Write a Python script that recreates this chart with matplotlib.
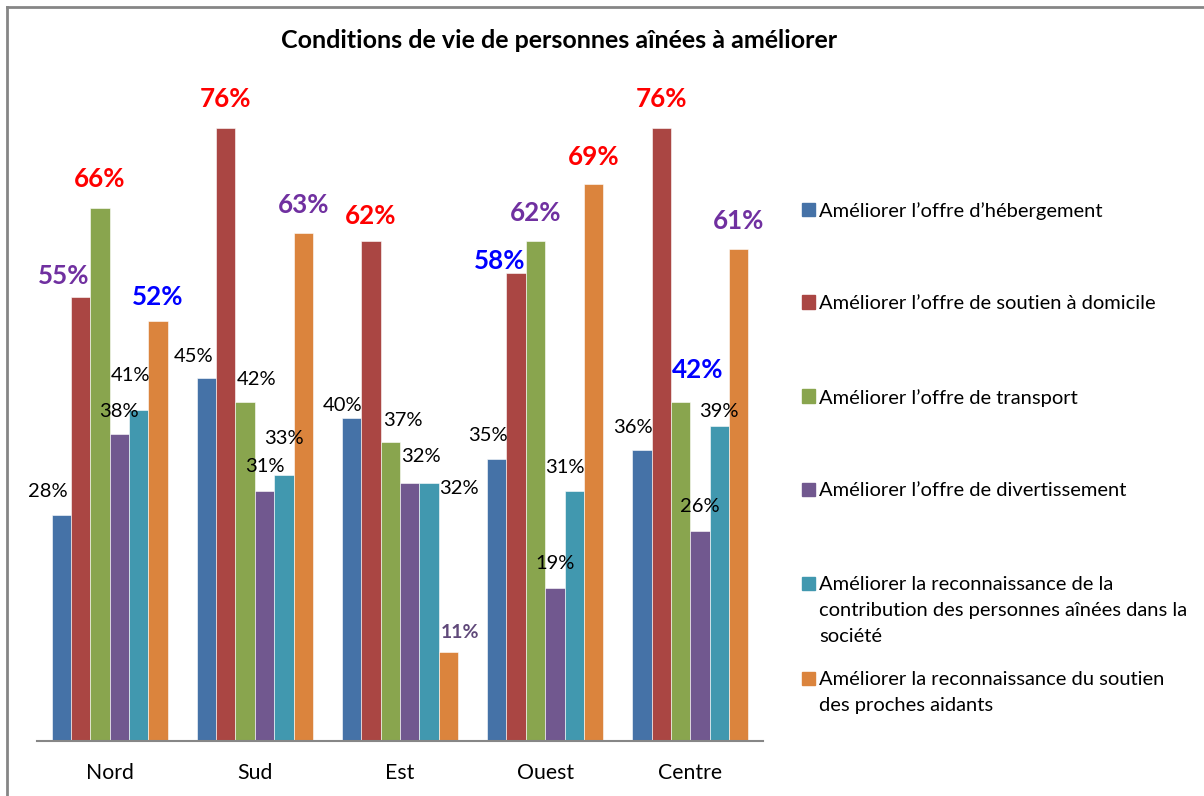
import numpy as np
import matplotlib.pyplot as plt
from matplotlib.lines import Line2D
from matplotlib.patches import Rectangle

plt.rcParams['font.family'] = ['Lato', 'DejaVu Sans']

regions = ['Nord', 'Sud', 'Est', 'Ouest', 'Centre']
series_names = [
    'Améliorer l’offre d’hébergement',
    'Améliorer l’offre de soutien à domicile',
    'Améliorer l’offre de transport',
    'Améliorer l’offre de divertissement',
    'Améliorer la reconnaissance de la\ncontribution des personnes aînées dans la\nsociété',
    'Améliorer la reconnaissance du soutien\ndes proches aidants',
]
hebergement = [28, 45, 40, 35, 36]
soutien_domicile = [55, 76, 62, 58, 76]
transport = [66, 42, 37, 62, 42]
divertissement = [38, 31, 32, 19, 26]
contribution = [41, 33, 32, 31, 39]
proches_aidants = [52, 63, 11, 69, 61]
values = [hebergement, soutien_domicile, transport, divertissement, contribution, proches_aidants]

colors = ['#4572A7', '#AA4643', '#89A54E', '#71588F', '#4198AF', '#DB843D']

# label style per bar: n = normal, r/b/p = large bold red/blue/purple, q = small bold purple
label_style = [
    ['n', 'n', 'n', 'n', 'n'],
    ['p', 'r', 'r', 'b', 'r'],
    ['r', 'n', 'n', 'p', 'b'],
    ['n', 'n', 'n', 'n', 'n'],
    ['n', 'n', 'n', 'n', 'n'],
    ['b', 'p', 'q', 'r', 'p'],
]
styles = {
    'n': dict(color='black', fontsize=14.5, fontweight='normal'),
    'r': dict(color='#FF0000', fontsize=18.7, fontweight='bold'),
    'b': dict(color='#0000FF', fontsize=18.7, fontweight='bold'),
    'p': dict(color='#7030A0', fontsize=18.7, fontweight='bold'),
    'q': dict(color='#60497A', fontsize=14, fontweight='bold'),
}
# label offsets from the bar top, in pixels (dx, dy)
offsets = [
    [(-13, 24), (-13, 21), (-9, 13), (-9, 23), (-9, 23)],
    [(-17, 21), (0, 29), (0, 25), (-17, 12), (0, 29)],
    [(0, 29), (11, 23), (13, 22), (0, 28), (17, 32)],
    [(0, 23), (0, 24), (11, 26), (0, 24), (0, 25)],
    [(-8, 35), (0, 36), (30, -6), (-9, 23), (-1, 15)],
    [(0, 24), (0, 28), (12, 20), (0, 27), (0, 28)],
]

W, H = 1204, 796
fig = plt.figure(figsize=(W / 100, H / 100), dpi=100)
ax = fig.add_axes([37 / W, (H - 741) / H, 726 / W, 645.6 / H])

x = np.arange(len(regions))
bw = 0.8 / 6
for i, vals in enumerate(values):
    xs = x + (i - 2.5) * bw
    ax.bar(xs, vals, bw, color=colors[i], edgecolor='#ffffff', linewidth=0.4)
    for j, v in enumerate(vals):
        ax.annotate(f'{v}%', (xs[j], v), xytext=offsets[i][j], textcoords='offset pixels',
                    ha='center', va='center', **styles[label_style[i][j]])

ax.set_xlim(-0.5, len(regions) - 0.5)
ax.set_ylim(0, 80)
ax.set_xticks(x)
ax.set_xticklabels(regions, fontsize=15.3)
ax.tick_params(axis='x', length=0, pad=16)
ax.set_yticks([])
for s in ['top', 'left', 'right']:
    ax.spines[s].set_visible(False)
ax.spines['bottom'].set_color('#868686')
ax.spines['bottom'].set_linewidth(1.5)

fig.text(559 / W, 1 - 41 / H, 'Conditions de vie de personnes aînées à améliorer',
         ha='center', va='center', fontsize=18, fontweight='bold')

# legend drawn by hand to keep Excel's spacing
leg_y = [209, 302, 396, 489, 583, 678]
for i, name in enumerate(series_names):
    y = leg_y[i]
    fig.add_artist(Rectangle((802 / W, 1 - (y + 6.5) / H), 13 / W, 13 / H,
                             transform=fig.transFigure, color=colors[i]))
    fig.text(819 / W, 1 - (y - 7) / H, name, ha='left', va='top',
             fontsize=14.5, linespacing=1.66)

# chart area border (top and left only visible)
fig.add_artist(Line2D([7 / W, 1], [1 - 7 / H, 1 - 7 / H], transform=fig.transFigure,
                      color='#868686', lw=2))
fig.add_artist(Line2D([7 / W, 7 / W], [0, 1 - 7 / H], transform=fig.transFigure,
                      color='#868686', lw=2))

fig.savefig('out.png', dpi=100)
